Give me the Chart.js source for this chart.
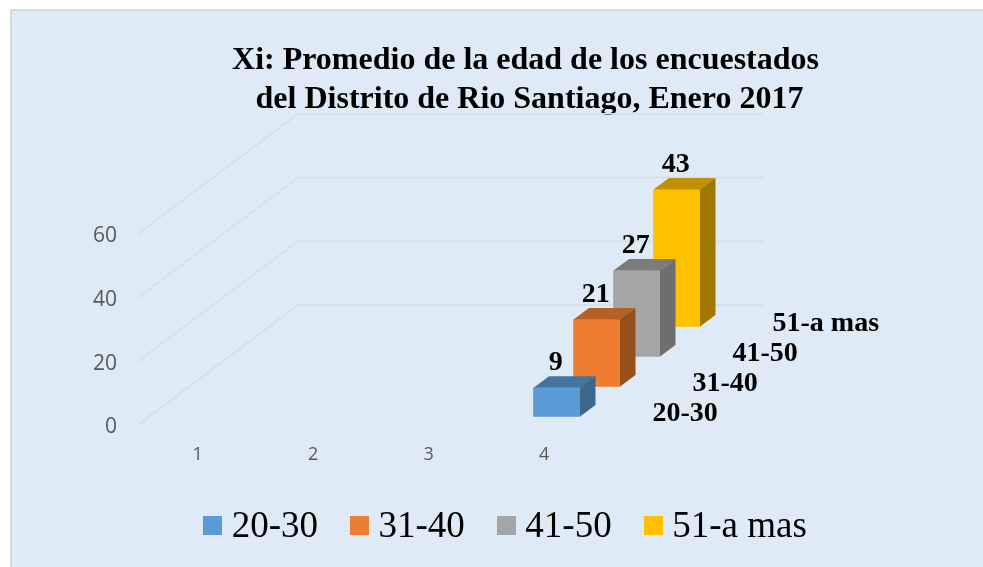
<!DOCTYPE html>
<html><head><meta charset="utf-8">
<script src="https://cdn.jsdelivr.net/npm/chart.js@4"></script>
<style>
html,body{margin:0;padding:0;background:#fff;width:983px;height:567px;overflow:hidden}
#panel{position:absolute;left:10px;top:9px;width:980px;height:570px;background:#DEEAF6;border:2px solid #DADADA;box-sizing:border-box}
canvas{position:absolute;left:0;top:0}
</style></head><body>
<div id="panel"></div>
<canvas id="c" width="983" height="567"></canvas>
<script>
const categories = ['1','2','3','4'];
const seriesNames = ['20-30','31-40','41-50','51-a mas'];
const s2030 = [null,null,null,9];
const s3140 = [null,null,null,21];
const s4150 = [null,null,null,27];
const s51mas = [null,null,null,43];
const yTicks = [0,20,40,60];
const titleLines = ['Xi: Promedio de la edad de los encuestados',' del Distrito de Rio Santiago, Enero 2017'];
const frontColors = ['#5B9BD5','#ED7D31','#A5A5A5','#FFC000'];
const topColors = ['#44749F','#B85F24','#7C7C7C','#BF9000'];
const sideColors = ['#3C668C','#96501E','#6E6E6E','#A07800'];

const SERIF = '"Liberation Serif"';
const STEP_X = 40, STEP_Y = -30, OFF_X = 12.5, OFF_Y = -8.5;
const SIDE_X = 15.5, SIDE_Y = -11.5;
const WALL_X = 160, WALL_Y = -120, WALL_END = 763;

function swatch(color){
  const c = document.createElement('canvas'); c.width = 19; c.height = 23;
  const g = c.getContext('2d'); g.fillStyle = color; g.fillRect(0,0,19,19);
  return c;
}
const swatches = frontColors.map(swatch);

const threeD = {
  id:'threeD',
  afterLayout(chart){
    const t = chart.titleBlock; t.left += 16; t.right += 16;
    const y = chart.scales.y;
    if (!y._shifted){
      const orig = y.drawLabels;
      y.drawLabels = function(a){
        const c = this.ctx; c.save(); c.translate(0,2.5); orig.call(this,a); c.restore();
      };
      y._shifted = true;
    }
  },
  beforeDatasetsDraw(chart){
    const {ctx, scales:{y}, chartArea:a} = chart;
    ctx.save();
    ctx.strokeStyle = '#D9DEE1'; ctx.lineWidth = 1.6;
    yTicks.forEach(v=>{
      const py = y.getPixelForValue(v);
      ctx.beginPath();
      ctx.moveTo(a.left - 2, py);
      ctx.lineTo(a.left - 2 + WALL_X, py + WALL_Y);
      ctx.lineTo(WALL_END, py + WALL_Y);
      ctx.stroke();
    });
    ctx.restore();
  },
  beforeDatasetDraw(chart,args){
    const i = args.index;
    chart.ctx.save();
    chart.ctx.translate(OFF_X + STEP_X*i, OFF_Y + STEP_Y*i);
  },
  afterDatasetDraw(chart,args){
    const {ctx} = chart, i = args.index;
    args.meta.data.forEach((bar,k)=>{
      if (chart.data.datasets[i].data[k] == null) return;
      const p = bar.getProps(['x','y','base','width'],true);
      const l = p.x - p.width/2, r = p.x + p.width/2;
      ctx.fillStyle = topColors[i];
      ctx.beginPath(); ctx.moveTo(l,p.y); ctx.lineTo(l+SIDE_X,p.y+SIDE_Y);
      ctx.lineTo(r+SIDE_X,p.y+SIDE_Y); ctx.lineTo(r,p.y); ctx.closePath(); ctx.fill();
      ctx.fillStyle = sideColors[i];
      ctx.beginPath(); ctx.moveTo(r,p.y); ctx.lineTo(r+SIDE_X,p.y+SIDE_Y);
      ctx.lineTo(r+SIDE_X,p.base+SIDE_Y); ctx.lineTo(r,p.base); ctx.closePath(); ctx.fill();
    });
    ctx.restore();
  },
  afterDatasetsDraw(chart){
    const {ctx, scales:{y}} = chart;
    ctx.save();
    ctx.fillStyle = '#000';
    ctx.font = 'bold 28px '+SERIF;
    ctx.textBaseline = 'alphabetic';
    chart.data.datasets.forEach((ds,i)=>{
      const meta = chart.getDatasetMeta(i);
      ds.data.forEach((v,k)=>{
        if (v == null) return;
        const b = meta.data[k].getProps(['x','y','width','base'],true);
        const dx = OFF_X + STEP_X*i, dy = OFF_Y + STEP_Y*i;
        ctx.textAlign = 'center';
        ctx.fillText(String(v), b.x + dx - 1, b.y + dy - 17.5);
        ctx.textAlign = 'left';
        ctx.fillText(seriesNames[i], b.x + b.width/2 + dx + 72.5, b.base + dy + 4);
      });
    });
    ctx.restore();
  }
};

const mk = (i,data)=>({label:seriesNames[i],data,backgroundColor:frontColors[i],clip:false,barThickness:46.5,grouped:false});

new Chart(document.getElementById('c'),{
  type:'bar',
  data:{labels:categories,datasets:[mk(0,s2030),mk(1,s3140),mk(2,s4150),mk(3,s51mas)]},
  plugins:[threeD],
  options:{
    responsive:false,animation:false,
    layout:{padding:{left:36,right:0,top:42,bottom:11}},
    datasets:{bar:{grouped:false}},
    plugins:{
      tooltip:{enabled:false},
      title:{display:true,text:titleLines,color:'#000',font:{family:SERIF,size:32,weight:'bold',lineHeight:1.2},padding:{top:0,bottom:115}},
      legend:{position:'bottom',labels:{
        color:'#000',font:{family:SERIF,size:37},usePointStyle:true,pointStyleWidth:1,boxHeight:19,padding:41,
        generateLabels(chart){
          return Chart.defaults.plugins.legend.labels.generateLabels(chart).map((it,i)=>({...it,pointStyle:swatches[i]}));
        }
      }}
    },
    scales:{
      x:{type:'category',grid:{display:false},border:{display:false},
         ticks:{color:'#595959',font:{family:'"Open Sans"',size:18},padding:11},
         afterFit(s){s.height=43}},
      y:{position:'left',min:0,max:60,grid:{display:false,drawTicks:false},border:{display:false},
         afterBuildTicks(s){s.ticks=yTicks.map(v=>({value:v}))},
         ticks:{color:'#595959',font:{family:'"Open Sans"',size:21},padding:23},
         afterFit(s){s.width=104}},
      y2:{position:'right',display:true,min:0,max:60,grid:{display:false},border:{display:false},
         ticks:{display:false},afterFit(s){s.width=381}}
    }
  }
});
</script>
</body></html>
